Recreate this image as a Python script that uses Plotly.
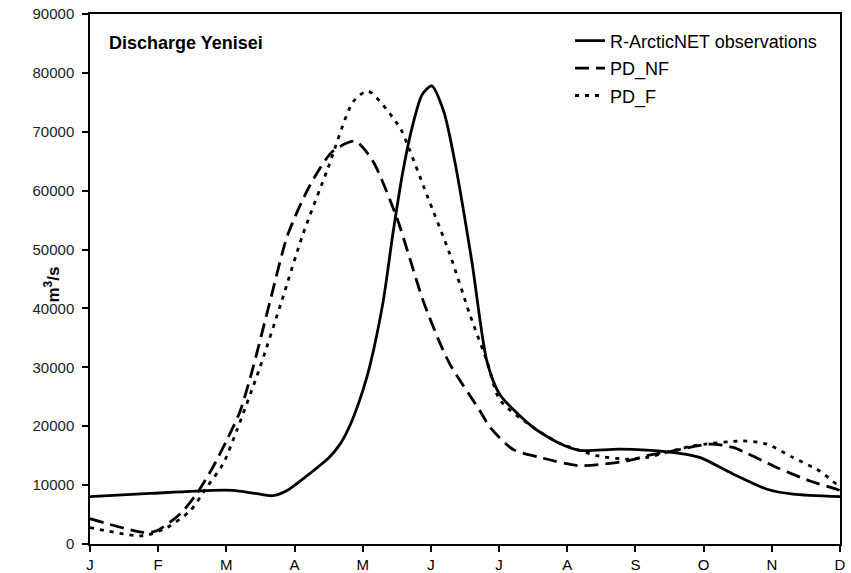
import plotly.graph_objects as go

# Month positions (0 = Jan ... 11 = Dec) and daily-discharge readings in m3/s
months = ["J", "F", "M", "A", "M", "J", "J", "A", "S", "O", "N", "D"]

obs_t = [0.00, 0.88, 1.80, 2.10, 2.42, 2.68, 2.89, 3.27, 3.50, 3.67, 3.83, 4.00, 4.11,
         4.30, 4.44, 4.59, 4.73, 4.87, 5.01, 5.19, 5.35, 5.60, 5.82, 6.01, 6.50,
         6.89, 7.18, 7.77, 8.50, 8.94, 9.43, 9.93, 10.31, 11.00]
obs_q = [8050, 8580, 9100, 9100, 8600, 8200, 9100, 12400, 14600, 17000, 20600, 26000, 30500,
         41200, 52500, 63300, 71000, 76300, 77800, 73400, 65000, 48000, 31100, 25400, 19800,
         17050, 15900, 16100, 15600, 14700, 11900, 9300, 8470, 8050]

nf_t = [0.00, 0.78, 0.98, 1.32, 1.56, 1.80, 2.00, 2.20, 2.39, 2.64, 2.90, 3.23,
        3.56, 3.89, 4.15, 4.50, 4.69, 4.88, 5.10, 5.28, 5.72, 5.87, 6.20, 6.60,
        7.18, 7.87, 8.17, 8.50, 9.09, 9.43, 10.07, 10.56, 10.95, 11.00]
nf_q = [4300, 1970, 2250, 5080, 8470, 13000, 17500, 22500, 29900, 41200, 52500, 61000,
        66700, 68400, 65000, 55400, 48500, 41500, 35000, 30500, 22600, 19800, 16100, 14700,
        13300, 14100, 15000, 15700, 16950, 16400, 13000, 10700, 9300, 9100]

f_t = [0.00, 0.78, 1.13, 1.47, 1.71, 1.95, 2.15, 2.49, 2.81, 3.12, 3.49,
       3.86, 4.08, 4.55, 4.65, 4.94, 5.28, 5.57, 5.82, 6.01, 6.50, 6.89, 7.18,
       7.43, 7.87, 8.17, 8.36, 8.50, 8.84, 9.57, 9.93, 10.31, 10.70, 10.95, 11.00]
f_q = [2800, 1400, 2800, 5650, 9600, 13560, 19200, 29900, 41200, 52500, 63800,
       75100, 76900, 70600, 68000, 59300, 49150, 39000, 31100, 24500, 19800, 17100, 15900,
       15000, 14400, 14700, 15250, 15700, 16650, 17500, 16950, 14700, 12400, 10170, 9900]

series = [
    ("R-ArcticNET observations", obs_t, obs_q, "solid"),
    ("PD_NF", nf_t, nf_q, "14px,7px"),
    ("PD_F", f_t, f_q, "4px,6px"),
]

y_ticks = list(range(0, 90001, 10000))

FONT = "Liberation Sans, Arial, sans-serif"

fig = go.Figure()
for i, (name, t, q, dash) in enumerate(series):
    fig.add_trace(go.Scatter(
        x=t, y=q, name=name, mode="lines", legendgroup=f"g{i}",
        line=dict(color="black", width=2.8, dash=dash, shape="spline", smoothing=0.7),
    ))

fig.update_layout(
    width=851, height=573,
    margin=dict(l=90, r=11, t=14, b=29),
    plot_bgcolor="white", paper_bgcolor="white",
    font=dict(family=FONT, color="black", size=15),
    showlegend=True,
    legend=dict(
        x=0.64, y=0.984, xanchor="left", yanchor="top",
        font=dict(size=18, family=FONT, color="black"),
        bgcolor="rgba(0,0,0,0)", tracegroupgap=1, itemwidth=30,
    ),
    annotations=[
        dict(text="<b>Discharge Yenisei</b>", xref="paper", yref="paper",
             x=0.022, y=0.945, xanchor="left", yanchor="middle", showarrow=False,
             font=dict(size=18, family=FONT, color="black")),
        dict(text="<b>m<sup>3</sup>/s</b>", xref="paper", yref="paper",
             x=-0.051, y=0.489, xanchor="center", yanchor="middle", showarrow=False,
             textangle=-90, font=dict(size=17, family=FONT, color="black")),
    ],
)

fig.update_xaxes(
    range=[0, 11], tickvals=list(range(12)), ticktext=months,
    showgrid=False, zeroline=False, automargin=False,
    showline=True, linecolor="black", linewidth=2, mirror=True,
    ticks="outside", ticklen=6, tickwidth=1.5, tickcolor="black",
    tickfont=dict(size=15, family=FONT, color="black"),
)
fig.update_yaxes(
    range=[0, 90000], tickvals=y_ticks, ticktext=[str(v) for v in y_ticks],
    showgrid=False, zeroline=False, automargin=False,
    showline=True, linecolor="black", linewidth=1.5, mirror=True,
    ticks="outside", ticklen=6, tickwidth=1.5, tickcolor="black",
    tickfont=dict(size=15, family=FONT, color="#222"),
    ticklabelstandoff=5,
)

fig.write_html("out.html")
